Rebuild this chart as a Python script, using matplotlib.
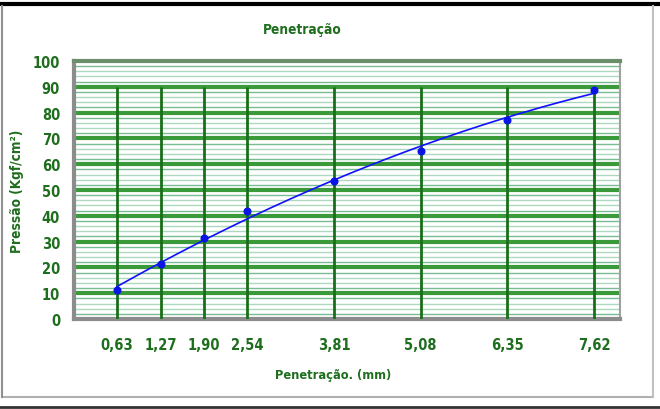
import numpy as np
import matplotlib
matplotlib.use("Agg")
import matplotlib.pyplot as plt
from matplotlib.lines import Line2D
from matplotlib import font_manager as fm

penetracao = [0.63, 1.27, 1.90, 2.54, 3.81, 5.08, 6.35, 7.62]
pressao = [11.2, 21.3, 31.4, 41.9, 53.5, 65.1, 77.1, 88.8]
xtick_labels = ["0,63", "1,27", "1,90", "2,54", "3,81", "5,08", "6,35", "7,62"]
yticks = [0, 10, 20, 30, 40, 50, 60, 70, 80, 90, 100]

GREEN_TXT = "#1e6e1e"
# condensed bold font if available
cond = [f for f in fm.fontManager.ttflist
        if f.name == "DejaVu Sans" and f.stretch == "condensed" and f.weight in (700, "bold")]
if cond:
    FP = dict(fname=cond[0].fname)
else:
    FP = dict(family=["Liberation Sans", "DejaVu Sans"], weight="bold")

def fp(size):
    return fm.FontProperties(size=size, **FP)

fig = plt.figure(figsize=(6.6, 4.1), dpi=100)
fig.patch.set_facecolor("white")
ax = fig.add_axes([74/660, 1-320/410, 546/660, 258/410])
ax.set_xlim(0, 8)
ax.set_ylim(0, 100)

# minor horizontal lines
for y in np.arange(2, 100, 2):
    if y % 10 == 0:
        continue
    col = "#78bc94" if (y % 10) in (2, 8) else "#aed8bf"
    ax.axhline(y, color=col, lw=1.0, zorder=1)
# major horizontal lines
for y in yticks[1:-1]:
    ax.axhline(y, color="#3a9a3a", lw=3.0, zorder=2)
# vertical lines up to 90
ax.vlines(penetracao, 0, 90, color="#1a6e1a", lw=2.0, zorder=3)

# trendline (2nd order polynomial fit of the data)
coef = np.polyfit(penetracao, pressao, 2)
xs = np.linspace(penetracao[0], penetracao[-1], 200)
ax.plot(xs, np.polyval(coef, xs), color="#1010ff", lw=1.2, zorder=4)
ax.plot(penetracao, pressao, "o", color="#0a14e6", ms=4.8, zorder=5)

ax.set_xticks(penetracao)
ax.set_xticklabels(xtick_labels)
ax.set_yticks(yticks)
ax.tick_params(axis="both", length=0, colors=GREEN_TXT)
ax.tick_params(axis="x", pad=13)
ax.tick_params(axis="y", pad=10)
for lab in ax.get_xticklabels() + ax.get_yticklabels():
    lab.set_fontproperties(fp(10.5))
    lab.set_color(GREEN_TXT)

for s in ["left", "bottom"]:
    ax.spines[s].set_color("#8c8c8c")
    ax.spines[s].set_linewidth(3)
ax.spines["top"].set_color("#6a8f6a")
ax.spines["top"].set_linewidth(3)
ax.spines["right"].set_color("#a0a0a0")
ax.spines["right"].set_linewidth(1.5)

ax.set_xlabel("Penetração. (mm)", fontproperties=fp(9.2), color=GREEN_TXT)
ax.xaxis.set_label_coords((333-74)/546, (320-375)/258)
ax.xaxis.label.set_va("center")
ax.set_ylabel("Pressão (Kgf/cm²)", fontproperties=fp(9.8), color=GREEN_TXT)
ax.yaxis.set_label_coords((17-74)/546, 0.5)
ax.yaxis.label.set_va("center")
fig.text(302/660, 1-30/410, "Penetração", fontproperties=fp(9.8),
         color=GREEN_TXT, ha="center", va="center")

# outer frames
fig.add_artist(Line2D([0, 1], [1-5/410, 1-5/410], color="black", lw=3))
fig.add_artist(Line2D([0, 1], [1-408/410, 1-408/410], color="#333333", lw=2))
fig.add_artist(Line2D([2/660, 653/660], [1-398/410, 1-398/410], color="#b0b0b0", lw=1.5))
fig.add_artist(Line2D([2/660, 2/660], [1-398/410, 1-7/410], color="#909090", lw=1.5))
fig.add_artist(Line2D([653/660, 653/660], [1-398/410, 1-7/410], color="#c0c0c0", lw=1.5))

fig.savefig("out.png", dpi=100)
